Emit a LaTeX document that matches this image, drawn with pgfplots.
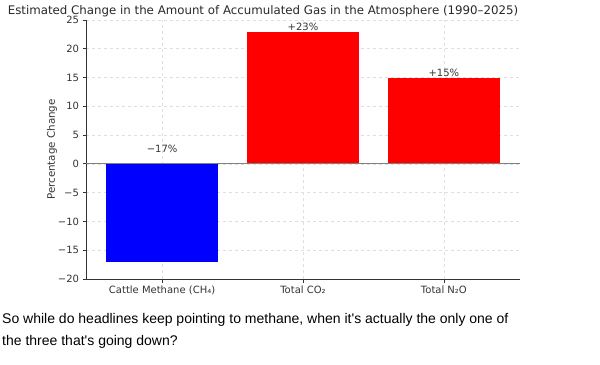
\documentclass[border=0pt]{standalone}
\usepackage{pgfplots}
\pgfplotsset{compat=1.18}
\usepackage{fontspec}
\setmainfont{DejaVu Sans}
\newfontfamily\arialfont{Liberation Sans}
\definecolor{txt}{HTML}{333333}
\definecolor{spine}{HTML}{333333}
\begin{document}
\begin{tikzpicture}
\useasboundingbox (0,0) rectangle (600bp,-365bp);
\node[text=txt!80!black, font=\fontsize{11.8bp}{14bp}\selectfont] at (263bp,-11bp) {Estimated Change in the Amount of Accumulated Gas in the Atmosphere (1990–2025)};
\begin{axis}[
  at={(86bp,-279bp)}, anchor=south west,
  scale only axis, width=434bp, height=259bp,
  xmin=-0.54, xmax=2.54, ymin=-20, ymax=25,
  axis lines*=left,
  axis line style={spine, line width=0.8bp},
  xtick={0,1,2},
  xticklabels={Cattle Methane (CH₄), Total CO₂, Total N₂O},
  ytick={-20,-15,-10,-5,0,5,10,15,20,25},
  yticklabels={−20,−15,−10,−5,0,5,10,15,20,25},
  tick align=outside, tick pos=left,
  major tick length=3.5bp,
  tick style={spine, line width=0.8bp},
  grid=major,
  grid style={dashed, gray!25, line width=0.6bp},
  ticklabel style={font=\fontsize{10bp}{12bp}\selectfont, text=txt},
  every axis y label/.style={at={(axis description cs:-0.078,0.5)}, rotate=90, anchor=center, font=\fontsize{10.3bp}{12bp}\selectfont, text=txt},
  ylabel={Percentage Change},
  clip=false,
]
\addplot[ybar, bar width=0.8, bar shift=0pt, fill=blue, draw=none] coordinates {(0,-17)};
\addplot[ybar, bar width=0.8, bar shift=0pt, fill=red, draw=none] coordinates {(1,23)};
\addplot[ybar, bar width=0.8, bar shift=0pt, fill=red, draw=none] coordinates {(2,15)};
\addplot[gray, line width=0.8bp] coordinates {(-0.54,0) (2.54,0)};
\node[anchor=base, text=txt, font=\fontsize{10bp}{12bp}\selectfont] at (axis cs:0,2) {−17\%};
\node[anchor=base, text=txt, font=\fontsize{10bp}{12bp}\selectfont] at (axis cs:1,23.1) {+23\%};
\node[anchor=base, text=txt, font=\fontsize{10bp}{12bp}\selectfont] at (axis cs:2,15.1) {+15\%};
\end{axis}
\node[anchor=base west, font=\arialfont\fontsize{14bp}{17bp}\selectfont, text=black, inner sep=0pt] at (2bp,-323bp) {So while do headlines keep pointing to methane, when it's actually the only one of};
\node[anchor=base west, font=\arialfont\fontsize{14bp}{17bp}\selectfont, text=black, inner sep=0pt] at (2bp,-345bp) {the three that's going down?};
\end{tikzpicture}
\end{document}
